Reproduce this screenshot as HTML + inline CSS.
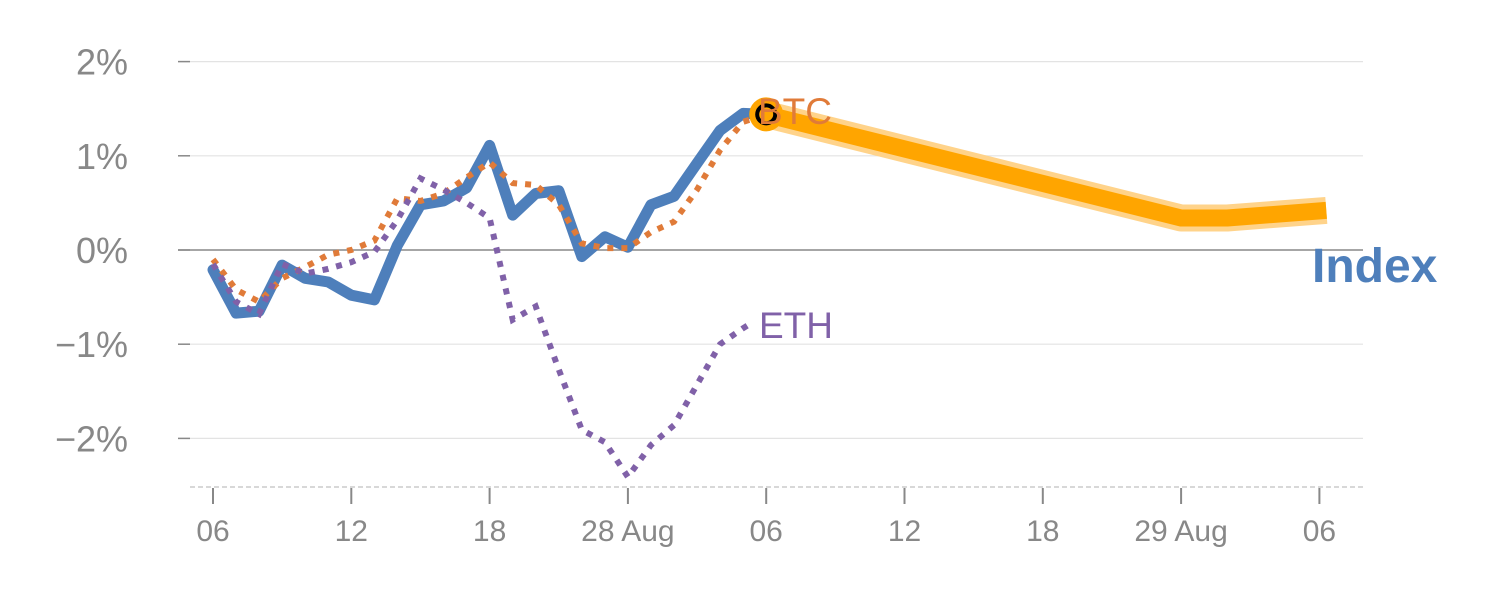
<!DOCTYPE html>
<html><head><meta charset="utf-8"><style>
html,body{margin:0;padding:0;background:#fff;}
svg{display:block;font-family:"Liberation Sans",Arial,sans-serif;}
</style></head><body>
<svg id="chart" width="1500" height="600" viewBox="0 0 1500 600" xmlns="http://www.w3.org/2000/svg">
<g id="grid"></g>
<g id="yaxis"></g>
<g id="xaxis"></g>
<g id="series"></g>
<text x="758" y="124" font-size="37" fill="#e07b39">BTC</text>
<text x="759" y="338" font-size="37" fill="#8061a8">ETH</text>
<text x="1312" y="282" font-size="48" font-weight="bold" fill="#4e7fbb">Index</text>
</svg>
<script>
const hours = [0,1,2,3,4,5,6,7,8,9,10,11,12,13,14,15,16,17,18,19,20,21,22,23,24];
const indexVals = [-0.21,-0.67,-0.65,-0.16,-0.30,-0.34,-0.48,-0.53,0.05,0.48,0.52,0.66,1.11,0.37,0.60,0.63,-0.07,0.14,0.03,0.48,0.57,0.92,1.27,1.45,1.44];
const btcVals = [-0.10,-0.42,-0.55,-0.30,-0.18,-0.05,0.00,0.10,0.55,0.52,0.60,0.77,0.93,0.71,0.69,0.48,0.07,0.02,0.02,0.19,0.30,0.64,1.06,1.36,1.44];
const ethHours = [0,1,2,3,4,5,6,7,8,9,10,11,12,13,14,15,16,17,18,19,20,21,22,23,23.4];
const ethVals = [-0.15,-0.55,-0.68,-0.15,-0.25,-0.20,-0.13,-0.02,0.32,0.76,0.64,0.50,0.34,-0.74,-0.60,-1.27,-1.91,-2.04,-2.41,-2.07,-1.86,-1.43,-1.00,-0.83,-0.77];
const fcHours = [24,42,44,48.3];
const fcVals = [1.44,0.34,0.34,0.42];
const yTicks = [2,1,0,-1,-2];
const yTickLabels = ["2%","1%","0%","\u22121%","\u22122%"];
const xTicks = [0,6,12,18,24,30,36,42,48];
const xTickLabels = ["06","12","18","28 Aug","06","12","18","29 Aug","06"];

const NS="http://www.w3.org/2000/svg";
const X = h => 213 + h*23.05;
const Y = v => 250 - v*94.2;
function mk(tag, attrs, parent){const e=document.createElementNS(NS,tag);for(const k in attrs)e.setAttribute(k,attrs[k]);parent.appendChild(e);return e;}
const grid=document.getElementById('grid'), ya=document.getElementById('yaxis'), xa=document.getElementById('xaxis'), ser=document.getElementById('series');

yTicks.forEach((t,i)=>{
  const l=mk('line',{x1:178,x2:1363,y1:Y(t),y2:Y(t),stroke:t===0?'#888':'#e3e3e3','stroke-width':t===0?1.5:1.2},grid);
  
  
  const tk=mk('line',{x1:178,x2:190,y1:Y(t),y2:Y(t),stroke:'#888','stroke-width':1.5},ya);
  
  
  const tx=mk('text',{x:128,y:Y(t)+13,'text-anchor':'end','font-size':36,fill:'#888'},ya);
  tx.textContent=yTickLabels[i];
  
  
});
const base=mk('line',{x1:190,x2:1365,y1:487,y2:487,stroke:'#ccc','stroke-width':1.5,'stroke-dasharray':'5,3'},xa);


xTicks.forEach((h,i)=>{
  const tk=mk('line',{x1:X(h),x2:X(h),y1:488,y2:504,stroke:'#888','stroke-width':2},xa);
  
  
  const tx=mk('text',{x:X(h),y:541,'text-anchor':'middle','font-size':30,fill:'#888'},xa);
  tx.textContent=xTickLabels[i];
  
  
});
const pts=(hs,vs)=>hs.map((h,i)=>X(h).toFixed(1)+','+Y(vs[i]).toFixed(1)).join(' ');

const fh=mk('polyline',{points:pts(fcHours,fcVals),fill:'none',stroke:'#ffd38a','stroke-width':27,'stroke-linejoin':'round'},ser);


const fl=mk('polyline',{points:pts(fcHours,fcVals),fill:'none',stroke:'#ffa500','stroke-width':17,'stroke-linejoin':'round'},ser);



const il=mk('polyline',{points:pts(hours,indexVals),fill:'none',stroke:'#4e7fbb','stroke-width':11,'stroke-linejoin':'round','stroke-linecap':'round'},ser);


const bl=mk('polyline',{points:pts(hours,btcVals),fill:'none',stroke:'#e07b39','stroke-width':6,'stroke-dasharray':'6,8'},ser);


const el=mk('polyline',{points:pts(ethHours,ethVals),fill:'none',stroke:'#8061a8','stroke-width':6,'stroke-dasharray':'6,8'},ser);



const last=hours.length-1;
const mo=mk('circle',{cx:X(hours[last]),cy:Y(indexVals[last]),r:17,fill:'#ffa500'},ser);


const mi=mk('circle',{cx:X(hours[last]),cy:Y(indexVals[last]),r:9,fill:'none',stroke:'#000','stroke-width':4},ser);


</script>
</body></html>
